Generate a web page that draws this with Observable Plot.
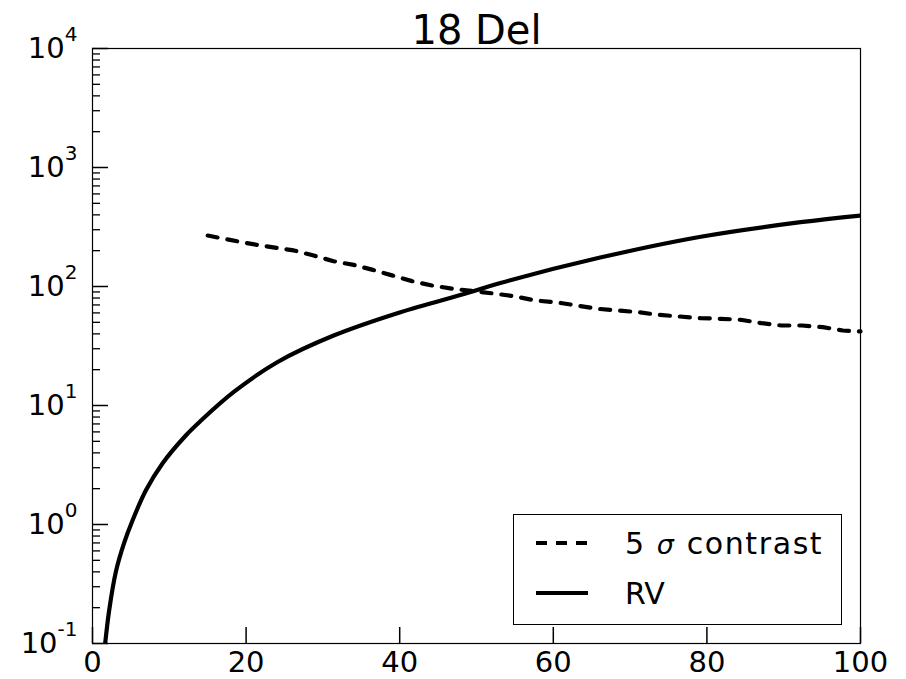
<!DOCTYPE html>
<html><head><meta charset="utf-8">
<script src="https://cdn.jsdelivr.net/npm/d3@7"></script>
<script src="https://cdn.jsdelivr.net/npm/@observablehq/plot@0.6"></script>
<style>
body{margin:0;background:#fff;}
#wrap{position:relative;width:906px;height:679px;font-family:"DejaVu Sans",sans-serif;}
#legend{position:absolute;left:513px;top:514px;width:329px;height:111px;border:1.3px solid #000;background:#fff;box-sizing:border-box;}
.sw{position:absolute;left:22px;width:52px;height:4px;}
.lt{position:absolute;left:111px;font-size:30px;line-height:30px;white-space:pre;color:#000;}
</style>
</head><body><div id="wrap"></div>
<script>
const title = "18 Del";
const rvX = [1.65, 2.17, 3.04, 4.12, 5.21, 6.94, 9.11, 12.15, 14.06, 18.4, 24.05, 31.4, 40.1, 48.8, 53.1, 66.1, 79.2, 92.2, 100];
const rvY = [0.1, 0.19, 0.40, 0.70, 1.08, 1.93, 3.26, 5.6, 7.4, 13.0, 23.1, 38.7, 60.8, 88, 107, 175, 262, 347, 395];
const contrastX = [15.0, 19.7, 22.1, 26.2, 28.8, 31.4, 34.0, 36.5, 39.0, 41.6, 44.2, 47.0, 49.6, 52.5, 55.1, 57.7, 60.3, 63.1, 65.7, 68.4, 71.1, 73.7, 76.4, 79.2, 81.8, 84.4, 87.1, 89.7, 92.4, 95.1, 97.7, 100];
const contrastY = [268, 234, 220, 201, 182, 163, 152, 138, 124, 111, 102, 95.6, 91.4, 86.9, 82.4, 76.2, 73.8, 69.2, 65, 62.9, 60.8, 57.8, 56, 54.2, 53.5, 52.5, 49.2, 47, 47, 45.5, 42.7, 41.9];
const xTicks = [0, 20, 40, 60, 80, 100];
const yMajor = [0.1, 1, 10, 100, 1000, 10000];
const yExp = ["-1", "0", "1", "2", "3", "4"];
const yMinor = [0.2,0.3,0.4,0.5,0.6,0.7,0.8,0.9, 2,3,4,5,6,7,8,9, 20,30,40,50,60,70,80,90, 200,300,400,500,600,700,800,900, 2000,3000,4000,5000,6000,7000,8000,9000];
const legendNumber = "5";
const legendSymbol = "σ";
const legendWord = "contrast";
const legendRV = "RV";

const rv = rvX.map((x, i) => ({x, y: rvY[i]}));
const contrast = contrastX.map((x, i) => ({x, y: contrastY[i]}));

const W = 906, H = 679, mL = 92, mR = 46, mT = 48, mB = 36;
const pw = W - mL - mR, ph = H - mT - mB;

const plot = Plot.plot({
  width: W, height: H, marginLeft: mL, marginRight: mR, marginTop: mT, marginBottom: mB,
  x: {domain: [0, 100]},
  y: {type: "log", domain: [0.1, 10000]},
  style: {fontFamily: "DejaVu Sans", color: "black", background: "white", overflow: "visible"},
  marks: [
    Plot.tickY(yMajor, {y: d => d, insetRight: pw - 16, stroke: "black", strokeWidth: 1.5}),
    Plot.tickY(yMinor, {y: d => d, insetRight: pw - 8, stroke: "black", strokeWidth: 1.3}),
    Plot.tickX(xTicks, {x: d => d, insetTop: ph - 16, stroke: "black", strokeWidth: 1.5}),
    Plot.line(contrast, {x: "x", y: "y", stroke: "black", strokeWidth: 4.2, strokeDasharray: "10,10"}),
    Plot.line(rv, {x: "x", y: "y", stroke: "black", strokeWidth: 4.2, curve: "catmull-rom", clip: true}),
    Plot.frame({stroke: "black", strokeWidth: 1.2}),
    Plot.axisX({ticks: xTicks, tickSize: 0, tickPadding: 8, fontSize: 29, label: null, tickFormat: d => String(d)}),
    Plot.axisY({ticks: yMajor, tickSize: 0, tickPadding: 15, fontSize: 29, label: null,
      tickFormat: d => "10^" + yExp[yMajor.indexOf(d)]}),
    Plot.text([title], {text: d => d, frameAnchor: "top", lineAnchor: "bottom", dy: -5, fontSize: 40})
  ]
});

plot.querySelectorAll('g[aria-label="y-axis tick label"] text').forEach(t => {
  const [b, e] = t.textContent.split("^");
  t.textContent = b;
  const ts = document.createElementNS("http://www.w3.org/2000/svg", "tspan");
  ts.setAttribute("dy", "-17");
  ts.setAttribute("font-size", "20");
  ts.textContent = e;
  t.appendChild(ts);
});

const wrap = document.getElementById("wrap");
wrap.appendChild(plot);

const lg = document.createElement("div");
lg.id = "legend";
lg.innerHTML =
  `<div class="sw" style="top:26px;background:repeating-linear-gradient(to right,#000 0 11px,transparent 11px 20px);"></div>` +
  `<div class="lt" style="top:14px;letter-spacing:1.6px">${legendNumber} <span style="font-style:italic;font-size:27px">${legendSymbol}</span> ${legendWord}</div>` +
  `<div class="sw" style="top:76px;background:#000;"></div>` +
  `<div class="lt" style="top:64px">${legendRV}</div>`;
wrap.appendChild(lg);
</script>
</body></html>
